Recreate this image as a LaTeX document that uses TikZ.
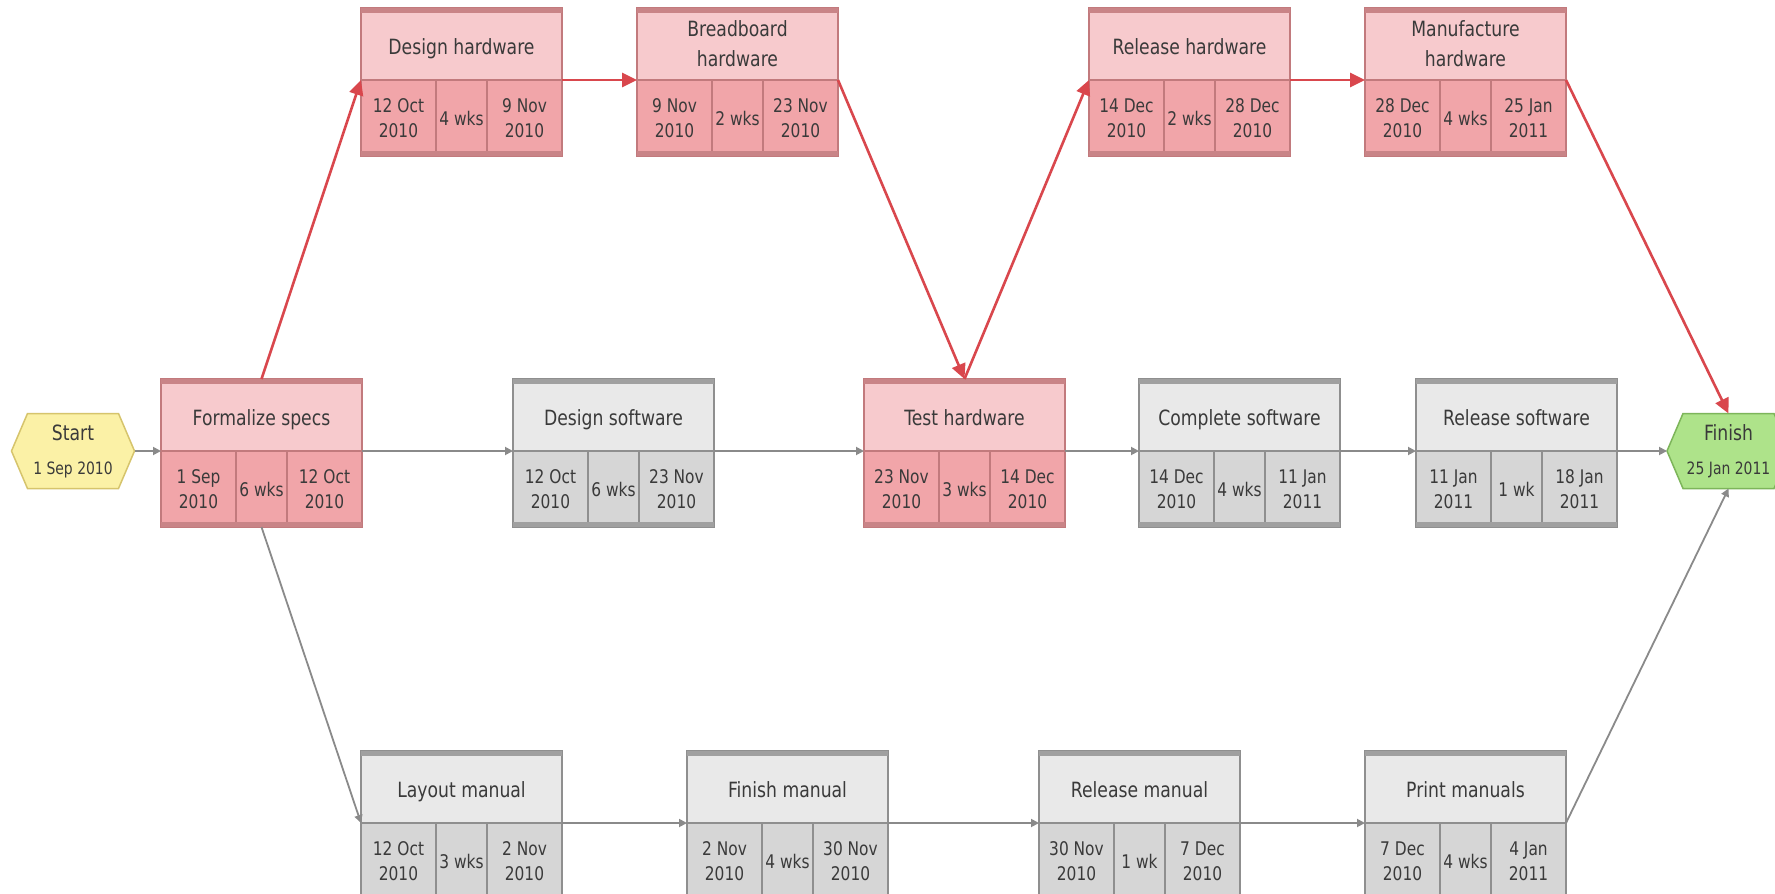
\documentclass[tikz,border=0pt]{standalone}
\usepackage{fontspec}
\setmainfont{DejaVu Sans}[FakeStretch=0.82]
\usetikzlibrary{arrows.meta,backgrounds}

\definecolor{txt}{HTML}{3A3A3A}
\definecolor{critTitle}{HTML}{F7CACD}
\definecolor{critCell}{HTML}{F1A5A9}
\definecolor{critLine}{HTML}{C27A7D}
\definecolor{critBand}{HTML}{C98487}
\definecolor{normTitle}{HTML}{E9E9E9}
\definecolor{normCell}{HTML}{D6D6D6}
\definecolor{normLine}{HTML}{8F8F8F}
\definecolor{normBand}{HTML}{A0A0A0}
\definecolor{critArrow}{HTML}{D9474D}
\definecolor{normArrow}{HTML}{8A8A8A}
\definecolor{startFill}{HTML}{FBF1A6}
\definecolor{startLine}{HTML}{D6C46C}
\definecolor{finishFill}{HTML}{AEE38A}
\definecolor{finishLine}{HTML}{7DB55A}

\newcommand{\pertTitleFont}{\fontsize{21}{30}\selectfont}
\newcommand{\pertCellFont}{\fontsize{18.8}{25}\selectfont}
\newcommand{\pertDateFont}{\fontsize{17}{34}\selectfont}

\tikzset{
  every node/.style={outer sep=0pt, inner sep=1pt, text=txt},
  crittitle/.style={draw=critLine, line width=1.5pt, fill=critTitle,
    minimum width=201pt, minimum height=72pt},
  critcell/.style={draw=critLine, line width=1.5pt, fill=critCell,
    minimum height=76pt, align=center, font=\pertCellFont},
  critband/.style={fill=critBand},
  normtitle/.style={draw=normLine, line width=1.5pt, fill=normTitle,
    minimum width=201pt, minimum height=72pt},
  normcell/.style={draw=normLine, line width=1.5pt, fill=normCell,
    minimum height=76pt, align=center, font=\pertCellFont},
  normband/.style={fill=normBand},
  titletext/.style={align=center, font=\pertTitleFont,
    execute at begin node=\strut, execute at end node=\strut},
  terminal/.style={minimum width=123pt, minimum height=75pt, align=center,
    font=\pertDateFont},
  critlink/.style={draw=critArrow, line width=2.6pt,
    -{Triangle[length=15pt,width=14pt]}},
  normlink/.style={draw=normArrow, line width=1.8pt,
    -{Triangle[length=8pt,width=8pt]}},
}

% #1 name, #2 left, #3 top, #4 title, #5 start, #6 duration, #7 end, #8 crit/norm
\newcommand{\pertbox}[8]{%
  \node[#8title, anchor=north west] (#1-t) at (#2,#3) {};
  \node[titletext] (#1-l) at ([yshift=-4.5pt]#1-t.center) {#4};
  \node[#8cell, minimum width=75pt, anchor=north west] (#1-s) at (#1-t.south west) {#5};
  \node[#8cell, minimum width=51pt, anchor=north west] (#1-d) at (#1-s.north east) {#6};
  \node[#8cell, minimum width=75pt, anchor=north west] (#1-e) at (#1-d.north east) {#7};
  \fill[#8band] (#1-t.north west) rectangle ([yshift=-5pt]#1-t.north east);
  \fill[#8band] (#1-s.south west) rectangle ([yshift=5pt]#1-e.south east);
}

\begin{document}
\begin{tikzpicture}[x=1pt, y=-1pt]
\clip (0,0) rectangle (1775,894);

% start and finish events
\node[terminal] (start) at (73,451)
  {{\pertTitleFont Start}\\1 Sep 2010};
\node[terminal] (finish) at (1728.5,451)
  {{\pertTitleFont Finish}\\25 Jan 2011};
\begin{scope}[on background layer]
  \fill[white] (0,0) rectangle (1775,894);
  \draw[fill=startFill, draw=startLine, line width=1.5pt]
    ([xshift=16pt]start.north west) -- ([xshift=-16pt]start.north east)
    -- (start.east) -- ([xshift=-16pt]start.south east)
    -- ([xshift=16pt]start.south west) -- (start.west) -- cycle;
  \draw[fill=finishFill, draw=finishLine, line width=1.5pt]
    ([xshift=16pt]finish.north west) -- ([xshift=-16pt]finish.north east)
    -- (finish.east) -- ([xshift=-16pt]finish.south east)
    -- ([xshift=16pt]finish.south west) -- (finish.west) -- cycle;
\end{scope}

% hardware path (critical)
\pertbox{fs}{161}{379}{Formalize specs}{1 Sep\\2010}{6 wks}{12 Oct\\2010}{crit}
\pertbox{dh}{361}{8}{Design hardware}{12 Oct\\2010}{4 wks}{9 Nov\\2010}{crit}
\pertbox{bb}{637}{8}{Breadboard\\hardware}{9 Nov\\2010}{2 wks}{23 Nov\\2010}{crit}
\pertbox{th}{864}{379}{Test hardware}{23 Nov\\2010}{3 wks}{14 Dec\\2010}{crit}
\pertbox{rh}{1089}{8}{Release hardware}{14 Dec\\2010}{2 wks}{28 Dec\\2010}{crit}
\pertbox{mh}{1365}{8}{Manufacture\\hardware}{28 Dec\\2010}{4 wks}{25 Jan\\2011}{crit}

% software path
\pertbox{ds}{513}{379}{Design software}{12 Oct\\2010}{6 wks}{23 Nov\\2010}{norm}
\pertbox{cs}{1139}{379}{Complete software}{14 Dec\\2010}{4 wks}{11 Jan\\2011}{norm}
\pertbox{rs}{1416}{379}{Release software}{11 Jan\\2011}{1 wk}{18 Jan\\2011}{norm}

% manual path
\pertbox{lm}{361}{751}{Layout manual}{12 Oct\\2010}{3 wks}{2 Nov\\2010}{norm}
\pertbox{fm}{687}{751}{Finish manual}{2 Nov\\2010}{4 wks}{30 Nov\\2010}{norm}
\pertbox{rm}{1039}{751}{Release manual}{30 Nov\\2010}{1 wk}{7 Dec\\2010}{norm}
\pertbox{pm}{1365}{751}{Print manuals}{7 Dec\\2010}{4 wks}{4 Jan\\2011}{norm}

% dependencies
\draw[normlink] (start.east) -- (fs-t.south west);
\draw[normlink] (fs-t.south east) -- (ds-t.south west);
\draw[normlink] (ds-t.south east) -- (th-t.south west);
\draw[normlink] (th-t.south east) -- (cs-t.south west);
\draw[normlink] (cs-t.south east) -- (rs-t.south west);
\draw[normlink] (rs-t.south east) -- (finish.west);
\draw[normlink] (fs-d.south) -- (lm-t.south west);
\draw[normlink] (lm-t.south east) -- (fm-t.south west);
\draw[normlink] (fm-t.south east) -- (rm-t.south west);
\draw[normlink] (rm-t.south east) -- (pm-t.south west);
\draw[normlink] (pm-t.south east) -- (finish.south);

\draw[critlink] (fs-t.north) -- (dh-t.south west);
\draw[critlink] (dh-t.south east) -- (bb-t.south west);
\draw[critlink] (bb-t.south east) -- (th-t.north);
\draw[critlink] (th-t.north) -- (rh-t.south west);
\draw[critlink] (rh-t.south east) -- (mh-t.south west);
\draw[critlink] (mh-t.south east) -- (finish.north);
\end{tikzpicture}
\end{document}
